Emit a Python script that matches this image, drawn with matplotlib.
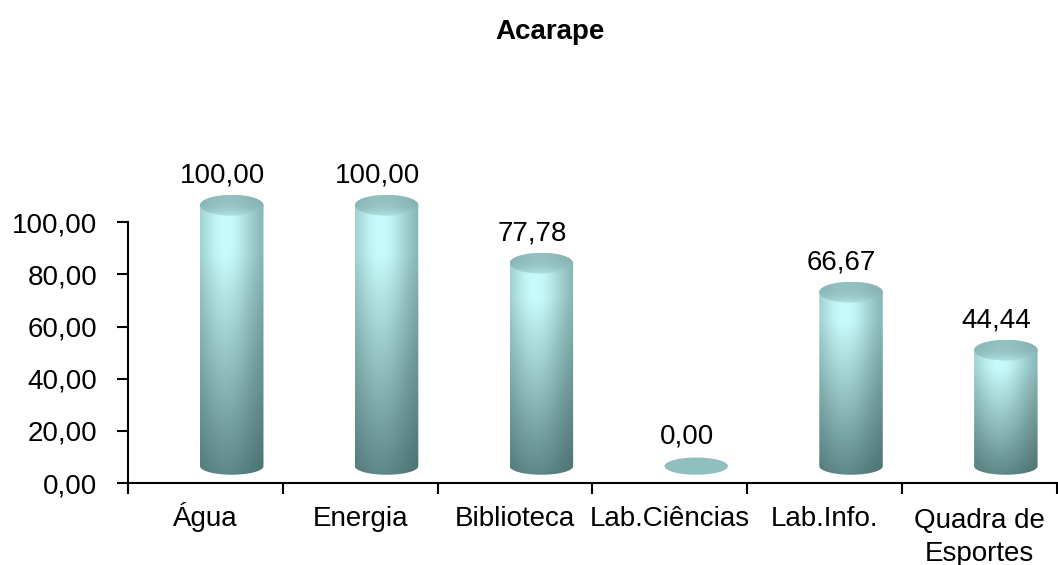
import numpy as np
import matplotlib
matplotlib.use("Agg")
import matplotlib.pyplot as plt
from matplotlib.path import Path
from matplotlib.patches import PathPatch, Ellipse

plt.rcParams['font.family'] = ['Liberation Sans', 'DejaVu Sans']

# dados
categorias = ["Água", "Energia", "Biblioteca", "Lab.Ciências", "Lab.Info.", "Quadra de\nEsportes"]
valores = [100.00, 100.00, 77.78, 0.00, 66.67, 44.44]
titulo = "Acarape"
yticks = [0, 20, 40, 60, 80, 100]

# aparência do "3D"
desloc_x = 0.17      # deslocamento do cilindro para a direita
meia_larg = 0.205    # meia largura do cilindro (unid. categoria)
base = 6.5           # altura da base (profundidade)
elip_base = 3.3      # semi-eixo vertical da elipse da base
elip_topo = 4.0      # semi-eixo vertical da tampa

c_claro = np.array([200, 252, 252]) / 255
c_escuro = np.array([50, 85, 85]) / 255


def contorno(xc, yb, yt):
    t1 = np.linspace(np.pi, 0, 60)
    t2 = np.linspace(0, -np.pi, 60)
    xs = np.concatenate([xc + meia_larg * np.cos(t1), xc + meia_larg * np.cos(t2)])
    ys = np.concatenate([yt + elip_topo * np.sin(t1), yb + elip_base * np.sin(t2)])
    pts = np.column_stack([xs, ys])
    pts = np.vstack([pts, pts[0]])
    codes = [Path.MOVETO] + [Path.LINETO] * (len(pts) - 2) + [Path.CLOSEPOLY]
    return Path(pts, codes)


def gradiente(ny, nx):
    u = np.linspace(0, 1, nx)
    v = np.linspace(1, 0, ny)
    hx = np.exp(-((u - 0.4) / 0.5) ** 2)
    vy = np.clip(v / 0.8, 0, 1)
    U, V = np.meshgrid(hx, vy)
    t = (0.45 + 0.55 * U) * (0.3 + 0.7 * V)
    t = np.clip(t, 0, 1)[..., None]
    return c_escuro + t * (c_claro - c_escuro)


fig = plt.figure(figsize=(10.58, 5.65), dpi=100)
ax = fig.add_axes([0.121, 0.145, 0.878, 0.554])

for i, v in enumerate(valores):
    xc = i + desloc_x
    yb = base
    yt = base + v
    if v <= 0:
        ax.add_patch(Ellipse((xc, yb), 2 * meia_larg, 2 * elip_base, facecolor="#8fbfbf",
                             edgecolor="none", zorder=3))
    else:
        patch = PathPatch(contorno(xc, yb, yt), facecolor="none", edgecolor="none")
        ax.add_patch(patch)
        img = ax.imshow(gradiente(200, 80), extent=[xc - meia_larg, xc + meia_larg, yb - elip_base, yt + elip_topo],
                        aspect="auto", interpolation="bilinear", zorder=3)
        img.set_clip_path(patch)
        # tampa
        tampa = Ellipse((xc, yt), 2 * meia_larg, 2 * elip_topo, facecolor="none", edgecolor="none")
        ax.add_patch(tampa)
        u = np.linspace(0, 1, 80)
        hx = np.exp(-((u - 0.45) / 0.5) ** 2)
        vv = np.linspace(0, 1, 40)[:, None]
        t = np.clip((0.5 + 0.15 * hx)[None, :] + 0.2 * vv ** 3, 0, 1)[..., None]
        cor = c_escuro + t * (c_claro - c_escuro)
        img2 = ax.imshow(cor, extent=[xc - meia_larg, xc + meia_larg, yt - elip_topo, yt + elip_topo],
                         aspect="auto", interpolation="bilinear", zorder=4)
        img2.set_clip_path(tampa)
    ax.text(i + 0.11, v + 18, f"{v:.2f}".replace(".", ","), ha="center", va="center",
            fontsize=20, zorder=5)

ax.set_xlim(-0.5, len(categorias) - 0.5)
ax.set_ylim(0, 120)

ax.set_yticks(yticks)
ax.set_yticklabels([f"{y:.2f}".replace(".", ",") for y in yticks], fontsize=20)
ax.tick_params(axis="y", length=8, width=1.5, pad=14)

ax.set_xticks(np.arange(-0.5, len(categorias), 1))
ax.set_xticklabels([])
ax.tick_params(axis="x", which="major", length=8, width=1.5, direction="out")

# rótulos das categorias alinhados pela linha de base
for i, cat in enumerate(categorias):
    n = cat.count("\n")
    ax.annotate(cat, xy=(i, 0), xycoords=ax.get_xaxis_transform(),
                xytext=(0, -31 - 25.2 * n), textcoords="offset points",
                ha="center", va="baseline", fontsize=20, linespacing=1.35)

for lado in ["top", "right"]:
    ax.spines[lado].set_visible(False)
ax.spines["left"].set_linewidth(1.5)
ax.spines["left"].set_bounds(0, 100)
ax.spines["bottom"].set_linewidth(1.5)

fig.text(550 / 1058, 1 - 32 / 565, titulo, ha="center", va="center", fontsize=20, fontweight="bold")

fig.savefig("out.png", dpi=100)
